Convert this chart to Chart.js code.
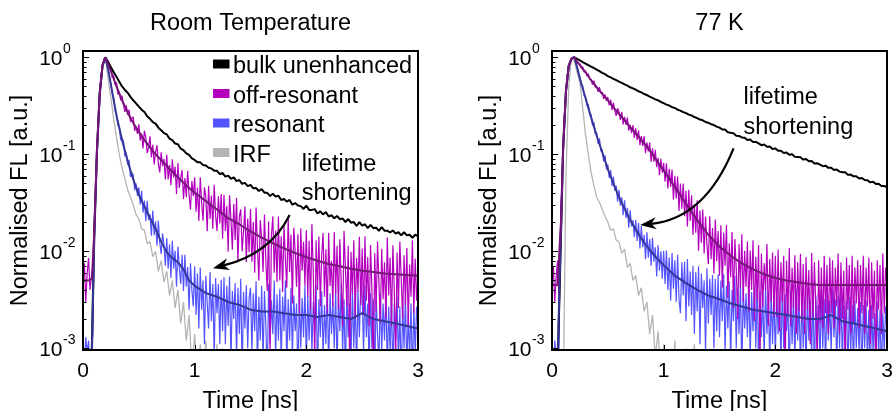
<!DOCTYPE html>
<html>
<head>
<meta charset="utf-8">
<script src="https://cdn.jsdelivr.net/npm/chart.js@4.4.1/dist/chart.umd.min.js"></script>
<style>
  html, body { margin: 0; padding: 0; background: #fff; }
  #wrap { position: relative; width: 895px; height: 411px; overflow: hidden; background: #fff; }
  canvas { position: absolute; top: 0; }
  #rt { left: 0; }
  #lt { left: 450px; }
</style>
</head>
<body>
<div id="wrap">
  <canvas id="rt" width="450" height="411"></canvas>
  <canvas id="lt" width="445" height="411"></canvas>
</div>
<script>
// bulk and IRF traces are binned every 0.025 ns, the antenna traces every 0.0125 ns (0 ... 3 ns)
const tStep = 0.025;
const tStepFine = 0.0125;
// the fitted decays are sampled at these times (ns)
const tFit = [0, 0.05, 0.08, 0.1, 0.125, 0.15, 0.175, 0.2, 0.225, 0.25, 0.275, 0.3,
  0.35, 0.4, 0.45, 0.5, 0.55, 0.6, 0.65, 0.7, 0.75, 0.8, 0.85, 0.9, 0.95, 1.0,
  1.1, 1.2, 1.3, 1.4, 1.5, 1.6, 1.7, 1.8, 1.9, 2.0, 2.1, 2.2, 2.3, 2.4, 2.5,
  2.6, 2.7, 2.8, 2.9, 3.0];

const seriesNames = ['bulk unenhanced', 'off-resonant', 'resonant', 'IRF'];
const xTicks = [0, 1, 2, 3];
const yTickExp = [0, -1, -2, -3];

// ---- Room temperature (normalised FL in units of 1e-4) ----
const rtBulk = [
  6, 6, 6, 6, 150, 1100, 4300, 8300, 10000, 9000,
  7900, 7000, 6300, 5600, 5000, 4600, 4300, 3900, 3600, 3350,
  3100, 2880, 2730, 2460, 2320, 2150, 2070, 1880, 1770, 1650,
  1600, 1450, 1400, 1290, 1270, 1140, 1100, 1020, 985, 905,
  875, 825, 825, 775, 765, 725, 715, 675, 675, 625,
  640, 588, 602, 558, 578, 528, 543, 495, 507, 470,
  484, 446, 449, 418, 437, 402, 400, 371, 391, 366,
  374, 338, 347, 325, 338, 302, 314, 296, 292, 273,
  296, 267, 267, 272, 245, 258, 240, 254, 228, 235,
  219, 231, 214, 218, 200, 215, 197, 200, 182, 200,
  184, 190, 173, 187, 173, 175, 162, 177, 163, 163,
  156, 164, 152, 157, 146, 157, 146, 148, 138, 148,
  143];
const rtOff = [
  45, 75, 30, 60, 85, 40, 55, 70, 160, 420, 1100, 2300, 4300, 6400, 8300, 9500, 10000, 9300, 8500, 7800,
  7560, 6140, 6480, 5225, 5500, 4140, 4420, 3590, 4030, 3215, 2730, 3190, 2540, 2880, 2160, 2360, 2415, 1740, 1940, 1620,
  2040, 1385, 1630, 1145, 1750, 1475, 1030, 1175, 1535, 930, 1255, 785, 1050, 1235, 795, 650, 1045, 755, 895, 550,
  990, 550, 780, 480, 890, 575, 745, 390, 810, 450, 570, 685, 345, 570, 360, 675, 380, 270, 530, 370,
  580, 255, 455, 205, 580, 318, 207, 455, 363, 161, 472, 215, 375, 170, 485, 236, 162, 370, 194, 389,
  135, 382, 162, 294, 99, 378, 212, 104, 308, 131, 355, 77, 228, 270, 100, 160, 289, 77, 218, 98,
  272, 78, 200, 60, 283, 110, 50, 210, 138, 61, 239, 79, 39, 203, 9, 148, 230, 60, 164, 48,
  228, 50, 143, 38, 182, 84, 42, 224, 61, 149, 29, 175, 101, 43, 150, 23, 173, 63, 125, 44,
  165, 34, 128, 25, 191, 58, 7, 130, 40, 142, 27, 92, 154, 34, 105, 23, 155, 44, 80, 27,
  158, 36, 114, 25, 133, 48, 17, 163, 68, 27, 114, 7, 99, 36, 130, 20, 85, 38, 141, 28,
  107, 22, 143, 31, 87, 17, 116, 40, 5, 96, 24, 126, 47, 18, 106, 32, 77, 20, 139, 35,
  86, 17, 115, 40, 7, 97, 26, 126, 51, 20, 91, 28, 108, 17, 73, 34, 130, 23, 84, 31,
  56];
const rtRes = [
  11, 7, 13, 9, 12, 6, 10, 14, 130, 380, 1050, 2200, 4200, 6300, 8200, 9500, 10000, 8700, 7500, 6300,
  5410, 4175, 3850, 2790, 2650, 1995, 1925, 1395, 1470, 1365, 950, 1035, 780, 875, 585, 645, 615, 425, 500, 375,
  456, 303, 419, 250, 334, 204, 332, 209, 242, 145, 263, 146, 204, 114, 207, 122, 94, 153, 117, 71,
  137, 66, 118, 53, 128, 66, 101, 43, 112, 67, 46, 92, 39, 92, 43, 69, 25, 75, 40, 27,
  70, 22, 59, 16, 68, 25, 50, 11, 56, 29, 16, 61, 19, 46, 8, 53, 23, 46, 11, 51,
  15, 54, 11, 44, 17, 55, 7, 39, 20, 47, 8, 42, 14, 52, 5, 38, 16, 45, 10, 33,
  42, 9, 37, 15, 49, 6, 34, 12, 44, 7, 39, 17, 5, 46, 11, 31, 14, 50, 8, 36,
  12, 41, 7, 34, 15, 50, 6, 32, 12, 42, 8, 35, 15, 29, 4, 40, 10, 33, 13, 44,
  7, 35, 12, 41, 9, 30, 15, 45, 5, 32, 13, 39, 8, 28, 11, 43, 6, 37, 14, 30,
  10, 41, 6, 34, 15, 47, 9, 32, 5, 38, 13, 29, 7, 42, 10, 33, 6, 39, 13, 47,
  35, 9, 44, 13, 29, 6, 37, 10, 32, 5, 34, 14, 7, 37, 9, 29, 12, 38, 6, 27,
  9, 33, 5, 29, 12, 34, 7, 27, 4, 29, 10, 34, 6, 23, 8, 29, 5, 26, 9, 27,
  16];
const rtIrf = [
  3, 3, 3, 3, 80, 900, 4000, 8000, 10000, 6000,
  3800, 2300, 1500, 1000, 720, 560, 430, 360, 300, 240,
  215, 170, 165, 120, 125, 88, 100, 62, 80, 48,
  62, 35, 50, 26, 40, 18, 30, 12, 22, 6,
  14, 5, 11, 4, 12, 3, 9, 2, 11, 3,
  10, 2, 4, 11, 2];
const rtOffFit = [50, 50, 52, 150, 1100, 4300, 8300, 10000, 8500, 7200, 6000, 5000,
  3600, 2700, 2100, 1700, 1400, 1180, 1000, 870, 760, 660, 580, 510, 450, 400,
  330, 270, 220, 190, 160, 138, 121, 107, 96, 87, 80, 74, 70, 66, 63,
  61, 59, 58, 57, 56];
const rtResFit = [8, 8, 9, 130, 1050, 4200, 8200, 10000, 7500, 5200, 3600, 2500,
  1400, 850, 550, 380, 290, 220, 170, 125, 98, 85, 77, 65, 50, 44,
  37, 34, 30, 28, 25, 24, 24, 23, 22, 22, 21, 22, 21, 20, 23,
  20, 19, 18, 17, 16];

// ---- 77 K (normalised FL in units of 1e-4) ----
const k77Bulk = [
  6, 6, 6, 80, 1200, 4500, 8200, 9700, 10000, 9600,
  9300, 8900, 8600, 8300, 8000, 7750, 7450, 7200, 6900, 6700,
  6400, 6200, 6000, 5800, 5600, 5450, 5250, 5100, 4900, 4780,
  4630, 4460, 4340, 4180, 4080, 3930, 3820, 3680, 3600, 3460,
  3370, 3250, 3180, 3060, 3000, 2880, 2815, 2720, 2660, 2560,
  2510, 2420, 2360, 2280, 2240, 2150, 2110, 2040, 2000, 1925,
  1880, 1800, 1795, 1690, 1665, 1645, 1550, 1545, 1490, 1480,
  1405, 1420, 1335, 1340, 1295, 1240, 1260, 1195, 1200, 1135,
  1150, 1085, 1085, 1030, 1040, 990, 1000, 940, 937, 930,
  880, 893, 847, 850, 802, 808, 782, 754, 763, 724,
  725, 690, 698, 662, 654, 653, 613, 618, 592, 594,
  563, 570, 542, 540, 513, 521, 495, 496, 471, 472,
  456];
const k77Off = [
  45, 70, 30, 55, 80, 35, 140, 450, 1200, 2600, 4500, 6500, 8200, 9100, 9700, 9950, 10000, 9500, 9000, 8650,
  8550, 7710, 7980, 7010, 7280, 6365, 6785, 5915, 5915, 5235, 5725, 4915, 5045, 4390, 4915, 4240, 4370, 3725, 4135, 3560,
  3890, 3190, 3665, 2870, 3415, 2795, 2490, 2980, 2730, 2260, 2735, 2035, 2430, 2010, 2390, 1750, 2015, 1655, 1995, 1470,
  1850, 1400, 1760, 1240, 1540, 1215, 1535, 1025, 1320, 1070, 1320, 840, 1150, 840, 1110, 735, 920, 610, 900, 645,
  815, 520, 805, 445, 710, 460, 695, 340, 600, 350, 590, 260, 500, 275, 500, 230, 420, 180, 430, 205,
  377, 148, 305, 155, 336, 101, 263, 122, 270, 95, 228, 117, 74, 229, 83, 174, 59, 213, 79, 162,
  56, 185, 42, 156, 71, 186, 33, 121, 54, 158, 26, 134, 66, 20, 119, 42, 150, 30, 101, 43,
  126, 24, 102, 40, 130, 19, 88, 31, 116, 7, 95, 27, 75, 40, 119, 17, 83, 30, 97, 21,
  90, 21, 104, 15, 77, 30, 90, 5, 80, 22, 108, 17, 68, 26, 91, 14, 77, 24, 94, 19,
  74, 14, 87, 25, 64, 11, 96, 21, 77, 27, 7, 81, 18, 68, 16, 90, 23, 72, 14, 86,
  23, 81, 16, 68, 27, 95, 14, 77, 20, 63, 5, 86, 25, 72, 14, 90, 18, 68, 29, 81,
  16, 72, 23, 90, 14, 68, 27, 86, 11, 77, 20, 63, 5, 81, 25, 72, 14, 95, 23, 68,
  45];
const k77Res = [
  10, 6, 12, 8, 5, 11, 150, 450, 1150, 2500, 4400, 6400, 8100, 9100, 9700, 9950, 10000, 9000, 7900, 6900,
  6240, 5130, 5090, 4040, 3990, 3160, 3295, 2565, 2570, 1980, 2145, 1630, 1675, 1280, 1455, 1075, 1115, 845, 975, 700,
  785, 570, 690, 470, 590, 420, 475, 325, 430, 295, 360, 235, 335, 220, 280, 175, 265, 180, 210, 140,
  210, 128, 196, 107, 182, 110, 148, 83, 157, 86, 134, 71, 138, 78, 110, 55, 115, 63, 100, 52,
  101, 46, 102, 40, 86, 31, 96, 41, 81, 30, 92, 32, 23, 77, 35, 78, 19, 83, 27, 62,
  22, 71, 14, 61, 24, 70, 11, 59, 26, 50, 9, 67, 18, 52, 22, 57, 10, 52, 15, 58,
  13, 50, 19, 58, 9, 44, 16, 49, 7, 40, 19, 56, 10, 41, 14, 49, 5, 43, 16, 37,
  13, 46, 8, 38, 15, 42, 10, 49, 6, 39, 13, 34, 8, 45, 14, 35, 7, 40, 11, 37,
  8, 39, 14, 34, 7, 45, 10, 36, 15, 31, 5, 39, 11, 35, 7, 41, 12, 32, 6, 36,
  10, 33, 6, 37, 12, 31, 8, 41, 5, 35, 11, 28, 7, 38, 10, 32, 6, 36, 12, 31,
  9, 40, 13, 32, 6, 35, 10, 38, 7, 28, 12, 31, 5, 34, 9, 28, 6, 31, 10, 26,
  9, 30, 5, 28, 10, 31, 7, 25, 4, 28, 9, 23, 6, 30, 8, 25, 5, 23, 9, 27,
  15];
const k77Irf = [
  3, 3, 3, 3, 3, 600, 5000, 10000, 9000, 7000,
  5500, 3000, 1600, 1000, 650, 480, 360, 320, 270, 230,
  200, 165, 170, 130, 125, 95, 105, 68, 75, 50,
  56, 35, 42, 24, 30, 14, 22, 8, 15, 5,
  11, 4, 8, 3, 12, 2, 9, 3, 10, 2,
  4, 11, 2];
const k77OffFit = [45, 45, 200, 1200, 4500, 8200, 9700, 10000, 9000, 8300, 7600, 7000,
  5800, 4900, 4200, 3600, 3050, 2600, 2250, 1900, 1650, 1400, 1200, 1000, 820, 680,
  460, 310, 210, 148, 112, 90, 75, 65, 58, 53, 50, 48, 46, 45, 45,
  45, 45, 45, 45, 45];
const k77ResFit = [8, 8, 160, 1150, 4400, 8100, 9700, 10000, 7900, 6000, 4800, 3800,
  2400, 1550, 1050, 700, 500, 360, 275, 210, 168, 135, 112, 95, 82, 72,
  56, 47, 40, 35, 32, 29, 27, 25, 24, 23, 22, 21, 20, 20, 22,
  19, 18, 17, 16, 15];

const FONT = '"Liberation Sans", Arial, Helvetica, sans-serif';
const colBulk = '#000000';
const colOff = '#b400be';
const colRes = '#5454ff';
const colIrf = '#b4b4b4';
const colOffFit = '#761478';
const colResFit = '#363696';

function trace(vals, step) {
    return vals.map((v, i) => ({ x: i * step, y: v * 1e-4 }));
}
function fitCurve(vals) {
    return tFit.map((t, i) => ({ x: t, y: vals[i] * 1e-4 }));
}
function line(label, data, color, width, order) {
    return {
        label: label,
        data: data,
        borderColor: color,
        backgroundColor: color,
        borderWidth: width,
        pointRadius: 0,
        tension: 0,
        fill: false,
        borderJoinStyle: 'bevel',
        order: order
    };
}

// draws frame, inward ticks, tick labels, titles, legend and the annotation
const decor = {
    id: 'decor',
    afterDatasetsDraw(chart, args, o) {
        const ctx = chart.ctx;
        const a = chart.chartArea;
        const xs = chart.scales.x, ys = chart.scales.y;
        ctx.save();
        ctx.strokeStyle = '#000';
        ctx.fillStyle = '#000';

        // inward ticks on the log axis
        ctx.lineWidth = 1;
        yTickExp.forEach(e => {
            for (let m = 1; m < 10; m++) {
                const v = m * Math.pow(10, e);
                if (v > ys.max) break;
                const py = Math.round(ys.getPixelForValue(v)) + 0.5;
                ctx.beginPath();
                ctx.moveTo(a.left, py);
                ctx.lineTo(a.left + (m === 1 ? 6 : 3.5), py);
                ctx.stroke();
            }
        });
        xTicks.forEach(v => {
            const px = Math.round(xs.getPixelForValue(v)) + 0.5;
            ctx.beginPath();
            ctx.moveTo(px, a.bottom);
            ctx.lineTo(px, a.bottom - 5);
            ctx.stroke();
        });

        // frame
        ctx.lineWidth = 2;
        ctx.strokeRect(a.left, a.top, a.right - a.left, a.bottom - a.top);

        // y tick labels 10^n
        ctx.textBaseline = 'alphabetic';
        yTickExp.forEach(e => {
            const py = ys.getPixelForValue(Math.pow(10, e));
            ctx.font = '21px ' + FONT;
            ctx.textAlign = 'right';
            ctx.fillText('10', a.left - 20.5, py + 8);
            ctx.font = '14px ' + FONT;
            ctx.textAlign = 'left';
            ctx.fillText(String(e), a.left - 20, py - 4);
        });

        // x tick labels
        ctx.font = '21px ' + FONT;
        ctx.textAlign = 'center';
        xTicks.forEach(v => {
            ctx.fillText(String(v), xs.getPixelForValue(v), a.bottom + 27);
        });

        // axis titles and panel title
        ctx.font = '23.5px ' + FONT;
        ctx.fillText('Time [ns]', (a.left + a.right) / 2, a.bottom + 58);
        ctx.fillText(o.title, (a.left + a.right) / 2, a.top - 21);
        ctx.save();
        ctx.translate(a.left - 62, (a.top + a.bottom) / 2);
        ctx.rotate(-Math.PI / 2);
        ctx.textBaseline = 'middle';
        ctx.fillText('Normalised FL [a.u.]', 0, 0);
        ctx.restore();

        // legend
        if (o.legend) {
            const items = chart.data.datasets.filter(d => seriesNames.includes(d.label));
            items.sort((p, q) => seriesNames.indexOf(p.label) - seriesNames.indexOf(q.label));
            ctx.textAlign = 'left';
            items.forEach((d, i) => {
                const base = a.top + 22 + i * 29.5;
                ctx.fillStyle = d.borderColor;
                ctx.fillRect(a.right - 205, base - 13.5, 16.5, 9);
                ctx.fillStyle = '#000';
                ctx.fillText(d.label, a.right - 185, base);
            });
        }

        // "lifetime shortening" note and arrow
        const P = p => [xs.getPixelForValue(p[0]), ys.getPixelForValue(p[1])];
        ctx.textAlign = 'left';
        o.notes.forEach(n => {
            const [px, py] = P(n.at);
            ctx.fillText(n.text, px, py);
        });
        const ar = o.arrow;
        const [x0, y0] = P(ar.from), [cx, cy] = P(ar.ctrl), [x1, y1] = P(ar.to);
        const ang = Math.atan2(y1 - cy, x1 - cx);
        const c = Math.cos(ang), s = Math.sin(ang);
        const L = 16, W = 6;
        ctx.lineWidth = 2.2;
        ctx.beginPath();
        ctx.moveTo(x0, y0);
        ctx.quadraticCurveTo(cx, cy, x1 - 0.7 * L * c, y1 - 0.7 * L * s);
        ctx.stroke();
        ctx.beginPath();
        ctx.moveTo(x1, y1);
        ctx.lineTo(x1 - L * c + W * s, y1 - L * s - W * c);
        ctx.lineTo(x1 - 0.7 * L * c, y1 - 0.7 * L * s);
        ctx.lineTo(x1 - L * c - W * s, y1 - L * s + W * c);
        ctx.closePath();
        ctx.fill();

        ctx.restore();
    }
};

function makePanel(id, padding, series, deco) {
    return new Chart(document.getElementById(id), {
        type: 'line',
        data: {
            datasets: [
                line('', fitCurve(series.offFit), colOffFit, 2, 0),
                line('', fitCurve(series.resFit), colResFit, 2, 0),
                line(seriesNames[0], trace(series.bulk, tStep), colBulk, 2, 1),
                line(seriesNames[1], trace(series.off, tStepFine), colOff, 1.2, 2),
                line(seriesNames[2], trace(series.res, tStepFine), colRes, 1.2, 3),
                line(seriesNames[3], trace(series.irf, tStep), colIrf, 1.3, 4)
            ]
        },
        options: {
            responsive: false,
            animation: false,
            devicePixelRatio: 1,
            events: [],
            layout: { padding: padding },
            scales: {
                x: { type: 'linear', min: 0, max: 3, display: false },
                y: { type: 'logarithmic', min: 0.00096, max: 1.16, display: false }
            },
            plugins: {
                legend: { display: false },
                tooltip: { enabled: false },
                decor: deco
            }
        },
        plugins: [decor]
    });
}

makePanel('rt', { left: 83, right: 32, top: 51, bottom: 61 },
    { bulk: rtBulk, off: rtOff, res: rtRes, irf: rtIrf, offFit: rtOffFit, resFit: rtResFit },
    {
        title: 'Room Temperature',
        legend: true,
        notes: [
            { text: 'lifetime', at: [1.96, 0.068] },
            { text: 'shortening', at: [1.96, 0.0334] }
        ],
        arrow: { from: [1.85, 0.0237], ctrl: [1.68, 0.0095], to: [1.164, 0.0067] }
    });

makePanel('lt', { left: 102, right: 8, top: 51, bottom: 61 },
    { bulk: k77Bulk, off: k77Off, res: k77Res, irf: k77Irf, offFit: k77OffFit, resFit: k77ResFit },
    {
        title: '77 K',
        legend: false,
        notes: [
            { text: 'lifetime', at: [1.715, 0.33] },
            { text: 'shortening', at: [1.715, 0.162] }
        ],
        arrow: { from: [1.626, 0.115], ctrl: [1.371, 0.0218], to: [0.79, 0.0187] }
    });
</script>
</body>
</html>
